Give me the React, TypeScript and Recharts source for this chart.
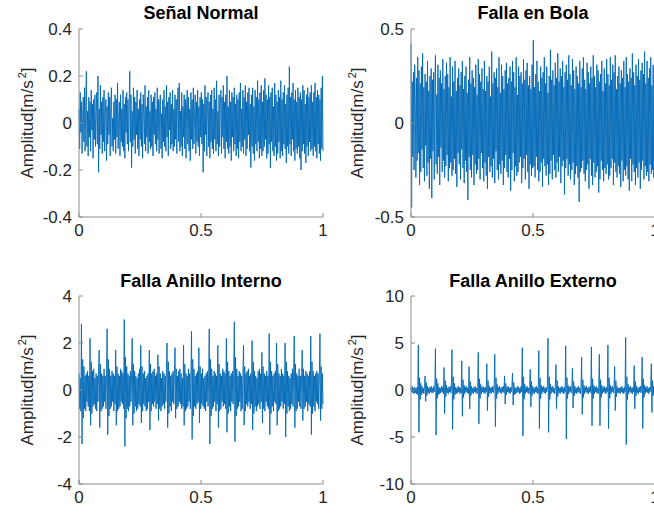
import React from 'react';
import { LineChart, Line, XAxis, YAxis } from 'recharts';

const FONT = '"Liberation Sans", Arial, Helvetica, sans-serif';
const BLUE = '#0068B5';
const BOX = '#8c8c8c';
const TXT = '#262626';

const timeTicks = [0, 0.5, 1];
const normalTicks = [-0.4, -0.2, 0, 0.2, 0.4];
const ballTicks = [-0.5, 0, 0.5];
const innerTicks = [-4, -2, 0, 2, 4];
const outerTicks = [-10, -5, 0, 5, 10];

const normalSignal = [
  0.06,-0.11,0.13,-0.04,0.09,-0.13,0.02,0.11,-0.08,0.15,-0.12,0.07,0.22,-0.10,0.05,-0.14,0.11,-0.06,0.09,-0.12,
  0.14,-0.03,0.08,-0.15,0.10,-0.07,0.12,-0.10,0.04,0.13,-0.09,0.20,-0.21,0.06,-0.11,0.16,-0.05,0.09,-0.13,0.11,
  -0.08,0.14,-0.12,0.03,0.10,-0.16,0.07,-0.09,0.13,-0.05,0.11,-0.14,0.08,0.15,-0.10,0.02,-0.12,0.09,-0.07,0.12,
  -0.13,0.10,-0.06,0.17,-0.11,0.04,0.09,-0.14,0.12,-0.08,0.06,-0.10,0.14,-0.12,0.08,-0.15,0.11,-0.04,0.13,-0.09,
  0.10,-0.12,0.07,0.22,-0.08,0.12,-0.19,0.05,-0.10,0.15,-0.07,0.11,-0.13,0.09,-0.05,0.14,-0.11,0.06,-0.14,0.10,
  -0.07,0.13,-0.10,0.08,-0.15,0.12,0.03,-0.09,0.16,-0.12,0.07,-0.06,0.11,-0.13,0.14,-0.08,0.05,-0.11,0.12,-0.10,
  0.09,-0.14,0.11,-0.05,0.13,-0.09,0.06,-0.12,0.15,-0.07,0.10,-0.13,0.08,0.12,-0.11,0.04,-0.15,0.10,-0.08,0.14,
  -0.10,0.07,-0.12,0.16,-0.06,0.09,-0.14,0.11,-0.03,0.13,-0.11,0.08,-0.09,0.14,-0.12,0.06,-0.10,0.12,-0.07,0.10,
  -0.13,0.09,0.15,-0.08,0.17,-0.12,0.05,-0.10,0.13,-0.14,0.07,-0.06,0.12,-0.11,0.10,-0.15,0.08,0.14,-0.09,0.11,
  -0.12,0.06,-0.16,0.13,-0.07,0.10,-0.11,0.15,-0.09,0.04,0.12,-0.13,0.09,-0.08,0.14,-0.10,0.07,-0.14,0.11,-0.06,
  0.13,-0.09,0.10,-0.21,0.08,-0.12,0.16,-0.05,0.11,-0.14,0.07,0.13,-0.10,0.09,-0.15,0.12,-0.08,0.14,-0.11,0.06,
  -0.13,0.15,-0.07,0.10,-0.12,0.18,-0.09,0.05,-0.14,0.12,-0.10,0.08,0.14,-0.13,0.11,-0.06,0.16,-0.11,0.09,-0.15,
  0.12,-0.08,0.20,-0.11,0.07,-0.13,0.14,-0.10,0.09,-0.16,0.13,-0.06,0.11,-0.12,0.15,-0.09,0.08,-0.14,0.12,-0.11,
  0.10,-0.15,0.13,-0.08,0.17,-0.12,0.06,-0.10,0.14,-0.13,0.11,-0.07,0.16,-0.14,0.09,-0.11,0.13,-0.05,0.15,-0.12,
  0.08,-0.19,0.12,-0.10,0.15,-0.13,0.07,-0.16,0.14,-0.09,0.11,-0.12,0.18,-0.08,0.10,-0.15,0.13,-0.11,0.16,-0.14,
  0.09,-0.12,0.14,-0.10,0.19,-0.07,0.12,-0.15,0.10,-0.13,0.16,-0.09,0.11,-0.19,0.13,-0.08,0.15,-0.12,0.07,-0.14,
  0.17,-0.10,0.12,-0.16,0.09,-0.13,0.14,-0.08,0.11,-0.15,0.18,-0.12,0.10,-0.14,0.13,-0.09,0.16,-0.11,0.08,-0.17,
  0.12,-0.10,0.15,-0.13,0.24,-0.09,0.11,-0.14,0.13,-0.07,0.17,-0.12,0.10,-0.16,0.14,-0.11,0.09,-0.13,0.15,-0.10,
  0.11,-0.15,0.13,-0.20,0.10,-0.12,0.16,-0.09,0.14,-0.13,0.08,-0.17,0.12,-0.10,0.15,-0.14,0.11,-0.08,0.13,-0.12,
  0.16,-0.11,0.09,-0.14,0.13,-0.10,0.17,-0.12,0.11,-0.15,0.14,-0.09,0.12,-0.13,0.10,-0.16,0.15,-0.11,0.20,-0.12,
];

const ballSignal = [
  0.42,-0.45,0.22,-0.18,0.27,-0.25,0.31,0.12,-0.29,0.24,-0.20,0.35,-0.16,0.28,-0.33,0.21,-0.26,0.30,-0.14,0.37,
  -0.24,0.19,-0.31,0.26,-0.12,0.22,-0.28,0.33,-0.21,0.17,-0.35,0.25,-0.19,0.29,-0.40,0.23,-0.15,0.27,-0.30,0.20,
  0.36,-0.22,0.15,-0.27,0.31,-0.18,0.24,-0.33,0.28,-0.13,0.21,-0.26,0.34,-0.20,0.18,-0.29,0.25,-0.23,0.32,-0.17,
  0.26,-0.31,0.19,-0.24,0.35,-0.21,0.14,-0.28,0.30,-0.25,0.22,-0.19,0.33,-0.27,0.17,-0.34,0.24,-0.16,0.29,-0.22,
  0.20,-0.30,0.27,-0.14,0.33,-0.24,0.18,-0.32,0.25,-0.20,0.30,-0.26,0.16,-0.41,0.23,-0.18,0.35,-0.25,0.21,-0.29,
  0.28,-0.17,0.24,-0.33,0.19,-0.22,0.31,-0.27,0.15,-0.25,0.34,-0.19,0.26,-0.30,0.22,-0.16,0.29,-0.24,0.18,-0.31,
  0.33,-0.21,0.17,-0.28,0.25,-0.35,0.22,-0.18,0.30,-0.26,0.14,-0.23,0.38,-0.29,0.21,-0.19,0.27,-0.32,0.24,-0.15,
  0.29,-0.25,0.19,-0.30,0.35,-0.22,0.16,-0.27,0.31,-0.20,0.25,-0.33,0.18,-0.24,0.28,-0.17,0.32,-0.26,0.21,-0.29,
  0.24,-0.19,0.30,-0.36,0.22,-0.25,0.33,-0.16,0.27,-0.31,0.19,-0.23,0.35,-0.28,0.15,-0.26,0.30,-0.21,0.25,-0.18,
  0.27,-0.32,0.21,-0.24,0.34,-0.19,0.23,-0.30,0.28,-0.17,0.32,-0.26,0.20,-0.35,0.25,-0.22,0.18,-0.28,0.31,-0.24,
  0.44,-0.23,0.19,-0.29,0.26,-0.18,0.33,-0.25,0.22,-0.31,0.17,-0.26,0.30,-0.21,0.24,-0.34,0.27,-0.19,0.35,-0.23,
  0.21,-0.28,0.30,-0.22,0.16,-0.33,0.25,-0.27,0.39,-0.20,0.23,-0.30,0.28,-0.17,0.20,-0.25,0.32,-0.29,0.24,-0.21,
  0.37,-0.26,0.22,-0.18,0.29,-0.32,0.25,-0.23,0.33,-0.20,0.19,-0.38,0.27,-0.24,0.31,-0.19,0.23,-0.28,0.36,-0.22,
  0.26,-0.30,0.20,-0.25,0.34,-0.21,0.28,-0.33,0.18,-0.27,0.30,-0.23,0.25,-0.29,0.21,-0.42,0.33,-0.26,0.19,-0.24,
  0.29,-0.20,0.35,-0.27,0.23,-0.31,0.18,-0.25,0.32,-0.22,0.27,-0.35,0.21,-0.19,0.30,-0.28,0.24,-0.33,0.36,-0.21,
  0.25,-0.29,0.19,-0.26,0.31,-0.23,0.28,-0.37,0.22,-0.30,0.26,-0.20,0.33,-0.25,0.17,-0.31,0.29,-0.24,0.21,-0.27,
  0.34,-0.22,0.26,-0.30,0.20,-0.28,0.35,-0.24,0.23,-0.19,0.31,-0.33,0.27,-0.21,0.36,-0.26,0.18,-0.29,0.25,-0.23,
  0.30,-0.27,0.21,-0.34,0.28,-0.20,0.24,-0.31,0.33,-0.25,0.19,-0.28,0.35,-0.23,0.26,-0.30,0.22,-0.36,0.29,-0.19,
  0.24,-0.31,0.37,-0.22,0.27,-0.26,0.20,-0.33,0.31,-0.24,0.25,-0.29,0.34,-0.21,0.23,-0.35,0.28,-0.25,0.32,-0.20,
  0.26,-0.30,0.38,-0.23,0.21,-0.28,0.33,-0.26,0.24,-0.31,0.29,-0.22,0.35,-0.27,0.20,-0.25,0.31,-0.29,0.27,-0.30,
];

const innerRingSignal = [
  0.7,-0.8,0.5,-0.9,2.8,-2.3,1.3,-1.2,1.0,-0.8,0.6,-0.9,0.7,-0.5,0.8,-0.7,0.6,-0.9,2.2,-1.5,
  1.2,-1.0,0.8,-0.7,0.9,-0.6,0.5,-0.8,0.7,-0.9,0.6,-0.5,0.8,1.7,-1.6,1.1,-0.9,0.7,-0.8,0.6,
  -0.7,0.9,-0.5,0.6,-0.8,0.7,2.6,-1.9,1.3,-1.1,0.9,-0.8,0.6,-0.7,0.8,-0.5,0.7,-0.9,0.6,-0.6,
  1.7,-1.5,1.0,-0.9,0.7,-0.8,0.6,-0.7,0.9,-0.5,0.8,-0.6,0.7,-0.8,3.0,-2.4,1.4,-1.2,1.0,-0.8,
  0.7,-0.9,0.6,-0.7,0.8,-0.5,0.7,2.2,-1.5,1.1,-1.0,0.8,-0.7,0.6,-0.9,0.5,-0.8,0.7,-0.6,0.9,
  -0.7,1.9,-1.4,1.0,-0.9,0.7,-0.6,0.8,-0.7,0.5,-0.9,0.6,-0.8,0.7,-0.5,1.7,-1.7,1.1,-0.9,0.7,
  -0.6,0.8,-0.7,0.9,-0.5,0.6,-0.8,0.7,-0.6,1.5,-1.3,1.0,-0.8,0.7,-0.9,0.5,-0.7,0.8,-0.6,0.7,
  -0.8,0.6,-0.5,0.9,2.0,-1.6,1.2,-1.0,0.8,-0.7,0.6,-0.9,0.7,-0.5,0.8,-0.6,0.7,1.8,-1.2,0.9,
  -0.8,0.6,-0.7,0.8,-0.5,0.9,-0.6,0.7,-0.8,0.5,-0.7,1.9,-1.5,1.1,-0.9,0.7,-0.8,0.6,-0.7,0.9,
  -0.5,0.7,-0.8,0.6,2.5,-2.1,1.3,-1.1,0.9,-0.7,0.6,-0.8,0.7,-0.6,0.8,-0.5,1.8,-1.4,1.0,-0.8,
  0.7,-0.6,0.9,-0.7,0.5,-0.8,0.6,-0.9,0.7,-0.5,0.8,-0.7,0.6,2.6,-2.3,1.3,-1.1,0.9,-0.8,0.6,
  -0.7,0.8,-0.5,0.7,-0.9,0.6,-0.6,1.9,-1.6,1.1,-0.9,0.7,-0.8,0.6,-0.5,0.9,-0.7,0.8,-0.6,0.7,
  -0.8,2.2,-1.8,1.2,-1.0,0.8,-0.7,0.6,-0.9,0.7,-0.5,0.8,-0.6,0.7,2.9,-2.2,1.4,-1.1,0.9,-0.8,
  0.6,-0.7,0.8,-0.5,0.7,-0.9,0.6,-0.8,0.5,1.9,-1.5,1.0,-0.9,0.7,-0.6,0.8,-0.7,0.9,-0.5,0.6,
  -0.8,0.7,-0.6,2.1,-1.7,1.2,-1.0,0.8,-0.7,0.6,-0.9,0.5,-0.7,0.8,-0.6,0.9,-0.8,0.7,-0.5,1.6,
  -1.4,1.0,-0.8,0.7,-0.9,0.6,-0.5,0.8,-0.7,0.6,-0.8,2.4,-1.9,1.2,-1.0,0.8,-0.7,0.6,-0.9,0.7,
  -0.5,0.8,-0.6,2.0,-1.5,1.1,-0.9,0.7,-0.8,0.6,-0.7,0.9,-0.5,0.7,-0.8,0.6,-0.6,2.0,-2.0,1.2,
  -1.0,0.8,-0.7,0.6,-0.9,0.5,-0.8,0.7,-0.6,0.9,-0.7,0.8,2.3,-1.6,1.1,-0.9,0.7,-0.8,0.6,-0.5,
  0.9,-0.7,0.6,-0.8,0.7,1.7,-1.3,0.9,-0.8,0.6,-0.7,0.8,-0.5,0.7,-0.9,0.6,-0.6,0.8,-0.7,2.3,
  -1.9,1.2,-1.0,0.8,-0.7,0.6,-0.9,0.7,-0.5,0.8,-0.6,0.7,-0.8,0.6,2.4,-1.3,1.0,-0.8,0.7,-0.6,
];

const outerRingSignal = [
  0.3,-0.2,0.4,-0.3,0.2,-0.4,0.3,-0.3,0.2,-0.4,0.3,-0.5,4.8,-4.5,1.3,-1.0,0.7,-0.5,0.4,-0.3,
  0.2,-0.4,0.3,1.5,-1.2,0.8,-0.6,0.4,-0.3,0.2,-0.4,0.3,-0.2,0.4,-0.3,0.2,-0.3,0.4,-0.2,0.3,
  4.4,-4.8,1.2,-0.9,0.7,-0.5,0.3,-0.4,0.2,-0.3,0.4,-0.2,0.3,-0.4,2.4,-2.5,1.0,-0.7,0.5,-0.3,
  0.2,-0.4,0.3,-0.2,0.4,-0.3,0.2,4.3,-4.2,1.4,-1.0,0.7,-0.5,0.3,-0.4,0.2,-0.3,0.4,-0.2,0.3,
  -0.4,0.2,-0.3,3.1,-2.8,1.1,-0.8,0.5,-0.4,0.3,-0.2,0.4,-0.3,0.2,-0.4,2.5,-2.0,0.9,-0.6,0.4,
  -0.3,0.2,-0.4,0.3,-0.2,0.4,-0.3,0.2,-0.4,0.3,4.0,-3.6,1.2,-0.9,0.6,-0.4,0.3,-0.2,0.4,-0.3,
  0.2,-0.4,0.3,-0.2,2.8,-2.2,1.0,-0.7,0.4,-0.3,0.2,-0.4,0.3,-0.2,0.4,-0.3,0.2,3.8,-3.9,1.3,
  -0.9,0.6,-0.4,0.3,-0.2,0.4,-0.3,0.2,-0.4,0.3,-0.2,0.4,-0.3,1.5,-1.5,0.7,-0.5,0.3,-0.2,0.4,
  -0.3,0.2,-0.4,0.3,-0.2,0.4,1.8,-1.6,0.8,-0.5,0.3,-0.4,0.2,-0.3,0.4,-0.2,0.3,-0.4,0.2,-0.3,
  0.4,-0.2,4.5,-4.9,1.4,-1.0,0.6,-0.4,0.3,-0.2,0.4,-0.3,0.2,-0.4,0.3,2.2,-1.8,0.9,-0.6,0.4,
  -0.3,0.2,-0.4,0.3,-0.2,0.4,-0.3,0.2,-0.4,4.2,-4.1,1.3,-0.9,0.5,-0.4,0.3,-0.2,0.4,-0.3,0.2,
  -0.4,0.3,-0.2,0.4,5.5,-4.5,1.4,-1.0,0.6,-0.4,0.3,-0.2,0.4,-0.3,0.2,-0.4,0.3,2.7,-2.0,1.0,
  -0.7,0.4,-0.3,0.2,-0.4,0.3,-0.2,0.4,-0.3,0.2,-0.4,0.3,-0.2,4.7,-5.2,1.3,-0.9,0.5,-0.4,0.3,
  -0.2,0.4,-0.3,0.2,2.3,-1.9,0.9,-0.6,0.4,-0.3,0.2,-0.4,0.3,-0.2,0.4,-0.3,0.2,-0.4,0.3,3.5,
  -2.6,1.1,-0.8,0.5,-0.4,0.3,-0.2,0.4,-0.3,0.2,-0.4,0.3,-0.2,0.4,-0.3,4.6,-3.8,1.2,-0.9,0.5,
  -0.4,0.3,-0.2,0.4,-0.3,0.2,-0.4,0.3,3.8,-3.8,1.1,-0.8,0.5,-0.4,0.3,-0.2,0.4,-0.3,0.2,-0.4,
  0.3,-0.2,4.8,-4.1,1.3,-0.9,0.5,-0.4,0.3,-0.2,0.4,-0.3,0.2,2.5,-2.2,1.0,-0.7,0.4,-0.3,0.2,
  -0.3,0.2,-0.4,0.3,-0.2,0.4,-0.3,0.2,-0.4,0.3,-0.2,5.6,-5.8,1.4,-1.0,0.6,-0.4,0.3,-0.2,0.4,
  -0.3,0.2,-0.4,0.3,-0.2,2.6,-2.0,0.9,-0.6,0.4,-0.3,0.2,-0.4,0.3,-0.2,0.4,-0.3,0.2,3.5,-4.1,
  1.2,-0.8,0.5,-0.4,0.3,-0.2,0.4,-0.3,0.2,-0.4,0.3,-0.2,0.4,2.8,-2.4,1.0,-0.6,0.4,-0.3,0.2,
];

type PanelProps = {
  x: number; y: number; w: number; h: number;
  boxX: number; boxY: number; boxW: number; boxH: number;
  title: string; titleY: number; labelX: number;
  values: number[]; domain: [number, number]; ticks: number[]; lineWidth: number;
};

const tickStyle = { fontSize: 17, fill: TXT, fontFamily: FONT };

function Panel(p: PanelProps) {
  const data = p.values.map((v, i) => ({ t: i / (p.values.length - 1), v }));
  const yw = 40;
  const xh = 30;
  const margin = {
    left: p.boxX - p.x - yw,
    top: p.boxY - p.y,
    right: p.x + p.w - (p.boxX + p.boxW),
    bottom: p.y + p.h - (p.boxY + p.boxH) - xh,
  };
  return (
    <>
      <div style={{ position: 'absolute', left: p.x, top: p.y }}>
        <LineChart width={p.w} height={p.h} data={data} margin={margin}>
          <XAxis dataKey="t" type="number" domain={[0, 1]} ticks={timeTicks} interval={0}
            height={xh} tickSize={-4} tickMargin={11}
            axisLine={{ stroke: BOX }} tickLine={{ stroke: BOX }} tick={tickStyle}
            tickFormatter={(v: number) => String(v)} />
          <XAxis xAxisId="top" orientation="top" type="number" domain={[0, 1]} ticks={timeTicks} interval={0}
            height={0} tickSize={-4} tickFormatter={() => ''}
            axisLine={{ stroke: BOX }} tickLine={{ stroke: BOX }} />
          <YAxis type="number" domain={p.domain} ticks={p.ticks} interval={0}
            width={yw} tickSize={-4} tickMargin={11}
            axisLine={{ stroke: BOX }} tickLine={{ stroke: BOX }} tick={tickStyle}
            tickFormatter={(v: number) => String(v)} />
          <YAxis yAxisId="right" orientation="right" type="number" domain={p.domain} ticks={p.ticks} interval={0}
            width={0} tickSize={-4} tickFormatter={() => ''}
            axisLine={{ stroke: BOX }} tickLine={{ stroke: BOX }} />
          <Line dataKey="v" type="linear" dot={false} activeDot={false} stroke={BLUE} strokeWidth={p.lineWidth}
            isAnimationActive={false} />
        </LineChart>
      </div>
      <div style={{
        position: 'absolute', left: p.boxX, width: p.boxW, top: p.titleY - 11, lineHeight: '22px',
        textAlign: 'center', fontWeight: 'bold', fontSize: 18, color: '#000', fontFamily: FONT, whiteSpace: 'nowrap',
      }}>{p.title}</div>
      <div style={{
        position: 'absolute', left: p.labelX, top: p.boxY + p.boxH / 2,
        transform: 'translate(-50%, -50%) rotate(-90deg)', whiteSpace: 'nowrap',
        fontSize: 17, color: TXT, fontFamily: FONT, lineHeight: '20px',
      }}>Amplitud[m/s<sup style={{ fontSize: '0.65em', marginLeft: 2, lineHeight: 0 }}>2</sup>]</div>
    </>
  );
}

export default function App() {
  return (
    <div style={{ position: 'absolute', left: 0, top: 0, width: 654, height: 518, overflow: 'hidden', background: '#fff' }}>
      <Panel x={0} y={0} w={330} h={250} boxX={79} boxY={29} boxW={244} boxH={188} lineWidth={0.9}
        title="Señal Normal" titleY={13} labelX={28} values={normalSignal} domain={[-0.4, 0.4]} ticks={normalTicks} />
      <Panel x={330} y={0} w={330} h={250} boxX={411} boxY={29} boxW={244} boxH={188} lineWidth={0.9}
        title="Falla en Bola" titleY={13} labelX={358} values={ballSignal} domain={[-0.5, 0.5]} ticks={ballTicks} />
      <Panel x={0} y={260} w={330} h={258} boxX={79} boxY={296} boxW={244} boxH={188} lineWidth={0.9}
        title="Falla Anillo Interno" titleY={281} labelX={28} values={innerRingSignal} domain={[-4, 4]} ticks={innerTicks} />
      <Panel x={330} y={260} w={330} h={258} boxX={411} boxY={296} boxW={244} boxH={188} lineWidth={0.9}
        title="Falla Anillo Externo" titleY={281} labelX={358} values={outerRingSignal} domain={[-10, 10]} ticks={outerTicks} />
    </div>
  );
}
